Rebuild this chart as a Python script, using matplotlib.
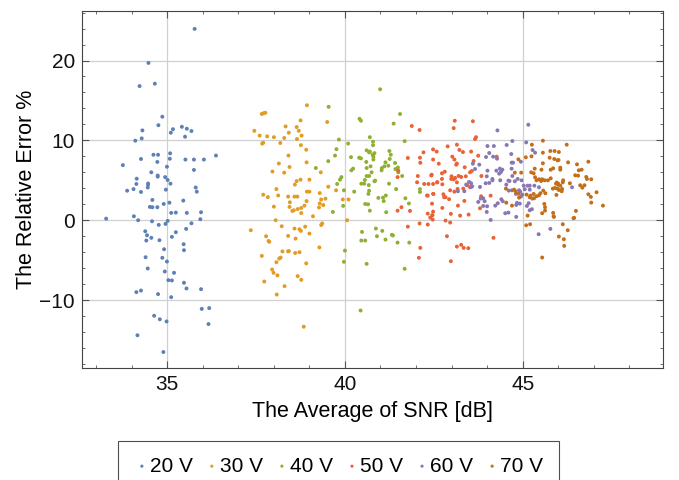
import matplotlib
matplotlib.use("Agg")
import matplotlib.pyplot as plt
import numpy as np

plt.rcParams['font.family'] = ['Liberation Sans', 'DejaVu Sans']

# 20 V
snr_20 = [35.77, 34.47, 34.22, 34.65, 34.86, 34.75, 34.30, 34.28, 34.10, 35.10,
          35.16, 35.41, 35.55, 35.68, 35.50, 35.08, 35.07, 34.61, 34.74, 34.26,
          33.75, 34.72, 35.51, 35.75, 36.03, 36.37, 34.99, 35.75, 34.55, 34.73,
          34.73, 34.94, 35.01, 34.14, 34.13, 34.46, 34.46, 35.09, 34.45, 34.05,
          33.87, 34.26, 34.96, 35.80, 35.83, 34.58, 35.45, 35.06, 34.90, 34.51,
          34.58, 34.72, 35.11, 35.24, 35.55, 35.95, 34.06, 33.28, 34.18, 34.57,
          35.01, 35.93, 34.95, 34.76, 35.68, 34.38, 34.43, 35.24, 34.55, 34.41,
          35.53, 35.13, 34.78, 35.46, 34.91, 35.47, 34.39, 34.86, 34.99, 34.45,
          34.93, 35.19, 35.03, 35.13, 35.47, 35.54, 35.95, 34.13, 34.26, 34.74,
          35.11, 35.97, 36.18, 34.63, 34.79, 34.98, 36.16, 34.16, 34.89]
err_20 = [23.96, 19.7, 16.8, 17.1, 12.96, 11.9, 11.25, 10.25, 9.96, 10.96,
          11.4, 11.7, 11.46, 11.17, 10.46, 8.38, 7.7, 8.2, 8.2, 7.67,
          6.9, 7.3, 7.6, 7.6, 7.6, 8.1, 6.7, 6.3, 6.0, 5.6,
          5.46, 5.4, 5.04, 5.2, 4.54, 4.6, 4.46, 4.58, 4.1, 3.9,
          3.7, 3.54, 3.83, 4.1, 3.58, 2.54, 2.46, 2.2, 2.04, 1.67,
          1.63, 1.63, 0.92, 0.96, 0.92, 1.0, 0.5, 0.2, 0.0, -0.13,
          -0.08, 0.13, -0.46, -0.58, -0.38, -1.38, -1.88, -1.5, -2.2, -2.54,
          -1.08, -2.08, -2.5, -3.0, -3.63, -3.75, -4.63, -4.7, -5.17, -6.04,
          -6.42, -6.58, -7.5, -7.54, -7.83, -8.54, -8.63, -9.0, -8.8, -9.25,
          -9.63, -11.1, -11.0, -11.96, -12.4, -12.67, -13.0, -14.4, -16.5]

# 30 V
snr_30 = [38.93, 37.66, 37.71, 37.76, 38.75, 39.50, 37.45, 37.60, 37.81, 38.00,
          38.33, 38.64, 38.70, 38.42, 38.78, 38.29, 38.65, 37.70, 37.67, 38.18,
          38.76, 38.91, 38.41, 38.14, 38.92, 38.44, 39.32, 37.96, 38.29, 38.75,
          39.00, 38.64, 38.59, 39.53, 38.07, 39.75, 38.93, 39.00, 39.29, 37.70,
          38.12, 37.83, 38.40, 38.58, 38.66, 39.45, 39.33, 39.94, 40.10, 38.92,
          38.45, 39.29, 39.39, 39.27, 38.86, 38.00, 38.77, 38.67, 38.56, 38.52,
          38.44, 38.77, 39.10, 38.05, 40.06, 37.35, 38.22, 39.36, 39.33, 38.88,
          38.58, 38.72, 38.76, 39.00, 37.78, 37.85, 37.87, 38.40, 38.61, 39.28,
          38.24, 38.40, 38.42, 38.60, 38.72, 37.66, 38.19, 38.15, 38.07, 38.91,
          37.95, 37.99, 38.10, 37.73, 38.67, 38.77, 38.30, 38.08, 38.84]
err_30 = [14.4, 13.3, 13.4, 13.46, 12.5, 12.3, 11.2, 10.6, 10.5, 10.4,
          11.75, 11.67, 11.2, 10.96, 10.6, 10.3, 10.17, 9.7, 9.6, 9.67,
          9.4, 8.83, 8.1, 7.1, 7.25, 6.67, 6.0, 6.1, 5.96, 5.08,
          5.08, 4.9, 4.46, 4.2, 3.9, 3.75, 3.58, 3.58, 3.4, 3.2,
          3.1, 2.9, 2.96, 2.96, 2.96, 2.7, 2.6, 2.6, 2.6, 2.4,
          2.25, 2.1, 1.9, 1.6, 1.83, 1.7, 1.54, 1.4, 1.25, 1.17,
          1.67, 0.9, 0.5, 0.0, 0.0, -1.25, -0.75, -0.4, -0.6, -0.8,
          -1.04, -1.13, -1.33, -1.67, -2.0, -2.6, -2.7, -1.96, -2.3, -3.4,
          -3.9, -3.9, -3.85, -4.1, -4.0, -4.46, -4.67, -4.8, -5.25, -5.4,
          -6.17, -6.58, -6.9, -7.67, -7.0, -7.46, -8.25, -9.3, -13.33]

# 40 V
snr_40 = [40.99, 39.54, 41.55, 40.41, 40.45, 41.37, 39.83, 40.09, 40.70, 40.79,
          40.79, 41.68, 39.76, 40.61, 40.70, 40.68, 40.83, 40.78, 40.80, 40.80,
          41.25, 41.29, 41.26, 39.72, 40.17, 40.40, 40.45, 39.53, 40.60, 41.14,
          41.41, 41.49, 41.42, 41.22, 41.11, 41.04, 41.03, 40.61, 40.72, 39.18,
          40.23, 40.18, 40.75, 40.61, 40.68, 41.50, 41.61, 40.56, 40.54, 40.85,
          40.83, 40.67, 40.68, 39.90, 39.86, 39.78, 40.46, 41.24, 41.44, 40.26,
          39.97, 41.15, 41.07, 41.09, 40.94, 40.66, 41.70, 41.80, 39.95, 40.57,
          40.65, 40.70, 41.16, 39.66, 42.11, 42.11, 42.46, 40.87, 41.05, 41.32,
          41.35, 40.90, 40.48, 40.46, 40.57, 41.14, 41.48, 41.81, 40.00, 39.97,
          40.61, 41.68, 40.44]
err_40 = [16.4, 14.2, 13.3, 12.7, 12.46, 12.1, 10.1, 9.6, 10.4, 9.83,
          9.4, 9.9, 8.9, 8.75, 8.6, 8.5, 8.4, 8.2, 7.96, 7.6,
          8.67, 8.2, 7.67, 8.1, 7.9, 7.83, 7.75, 7.4, 7.3, 7.25,
          7.17, 6.6, 6.4, 6.83, 6.75, 6.54, 6.25, 6.54, 6.75, 6.54,
          6.46, 6.25, 6.0, 5.54, 5.54, 6.0, 5.54, 5.04, 4.58, 4.96,
          4.88, 4.4, 3.7, 5.4, 5.08, 4.54, 4.58, 4.58, 3.9, 3.58,
          3.75, 3.1, 2.83, 2.4, 2.8, 3.3, 2.75, 2.1, 1.8, 2.04,
          2.0, 1.2, 1.0, 1.04, 3.9, 3.54, 0.63, -1.04, -1.33, -1.83,
          -1.9, -2.0, -1.46, -2.54, -2.54, -2.42, -2.8, -2.8, -3.8, -5.2,
          -5.46, -6.08, -11.3]

# 50 V
snr_50 = [41.88, 42.10, 42.21, 42.48, 42.58, 41.77, 42.11, 42.12, 42.48, 42.64,
          42.43, 42.05, 42.03, 42.23, 42.35, 42.48, 42.59, 42.31, 42.48, 41.83,
          41.59, 41.48, 42.45, 42.48, 42.46, 42.47, 42.33, 42.40, 42.10, 42.33,
          41.77, 42.12, 42.08, 41.50, 41.48, 43.09, 43.60, 43.06, 43.69, 43.66,
          42.89, 43.15, 43.22, 43.32, 43.55, 43.75, 43.02, 43.08, 43.15, 43.13,
          43.62, 43.37, 43.52, 43.57, 42.81, 42.73, 42.44, 43.00, 42.99, 43.10,
          43.06, 43.20, 43.27, 43.40, 43.84, 42.73, 42.74, 43.15, 43.33, 43.17,
          43.44, 43.52, 42.96, 43.08, 42.33, 42.49, 42.77, 42.79, 42.83, 42.93,
          43.36, 43.18, 43.83, 44.10, 42.74, 42.98, 43.24, 43.48, 43.80, 42.83,
          42.96, 42.87, 44.18, 43.15, 43.27, 43.34, 43.47, 42.98, 44.27, 42.60]
err_50 = [11.8, 11.3, 8.5, 8.87, 8.6, 7.8, 7.83, 7.2, 7.6, 7.08,
          5.6, 5.54, 4.75, 4.54, 4.54, 4.54, 4.75, 3.1, 3.3, 1.17,
          1.63, 1.2, 2.08, 1.08, 0.63, 0.08, 0.83, 0.33, -0.4, -0.54,
          -0.8, -3.46, -4.7, 6.2, 5.4, 12.46, 12.4, 11.54, 10.4, 10.17,
          9.25, 9.46, 8.8, 8.54, 8.6, 8.08, 7.96, 7.6, 7.1, 6.96,
          7.42, 6.63, 6.0, 6.17, 6.08, 5.88, 5.7, 5.5, 5.17, 5.3,
          5.13, 5.54, 5.42, 5.5, 5.54, 5.17, 4.5, 4.75, 3.96, 3.92,
          4.38, 4.13, 3.75, 3.58, 3.08, 3.3, 3.25, 2.88, 2.88, 2.63,
          2.42, 1.83, 3.0, 3.08, 1.54, 0.8, 0.58, 0.71, 1.5, -0.04,
          -0.29, -2.0, -2.2, -3.3, -3.08, -3.46, -3.5, -5.13, 7.96, 4.75]

# 60 V
snr_60 = [45.16, 44.29, 44.01, 44.19, 44.55, 44.71, 45.10, 45.28, 45.35, 44.06,
          43.97, 44.17, 44.28, 44.68, 44.69, 44.73, 44.95, 43.60, 43.78, 43.66,
          44.01, 44.26, 44.36, 44.43, 44.39, 44.34, 44.69, 43.99, 43.96, 44.06,
          44.15, 44.15, 43.80, 43.49, 43.55, 43.58, 43.55, 43.41, 44.37, 44.60,
          44.63, 44.54, 44.78, 44.71, 44.86, 44.97, 45.03, 45.14, 45.20, 44.70,
          44.61, 44.90, 44.93, 45.06, 45.20, 45.33, 45.46, 44.81, 44.99, 44.95,
          44.40, 44.44, 43.82, 43.89, 43.75, 43.93, 44.23, 44.30, 44.00, 43.89,
          44.84, 44.92, 44.82, 45.27, 45.17, 45.12, 45.20, 45.26, 43.99, 44.51,
          44.60, 44.82, 44.10, 45.87, 45.78, 45.45, 43.18, 43.36, 46.39]
err_60 = [11.96, 11.25, 9.29, 9.29, 9.42, 9.92, 9.75, 8.79, 8.46, 8.42,
          7.92, 7.96, 7.71, 8.29, 7.21, 7.21, 7.33, 7.08, 6.96, 6.42,
          6.21, 6.21, 6.46, 6.33, 6.04, 5.83, 6.46, 5.5, 4.63, 4.67,
          5.17, 5.0, 4.17, 4.79, 4.63, 4.25, 4.17, 4.46, 5.0, 4.96,
          4.92, 4.46, 4.88, 5.54, 5.17, 5.0, 4.33, 4.33, 4.33, 3.75,
          3.71, 3.75, 3.58, 3.88, 3.83, 4.33, 4.13, 3.3, 3.2, 2.96,
          2.63, 2.38, 2.71, 2.75, 2.29, 2.38, 1.83, 2.13, 1.75, 1.79,
          2.17, 2.08, 1.92, 2.71, 2.13, 1.79, 1.25, 1.38, 1.04, 0.88,
          0.96, 0.42, 0.04, 0.5, -1.08, -1.75, 3.63, 3.63, 4.13]

# 70 V
snr_70 = [45.57, 45.26, 46.24, 45.57, 45.78, 45.90, 46.02, 45.09, 45.25, 44.88,
          45.76, 45.89, 45.98, 46.01, 46.28, 46.53, 46.85, 45.57, 45.34, 45.53,
          45.79, 45.86, 46.06, 46.06, 44.96, 44.78, 46.58, 46.66, 45.31, 45.24,
          46.48, 46.56, 46.79, 46.81, 46.93, 45.35, 45.46, 45.39, 45.55, 45.62,
          45.52, 45.79, 45.71, 46.14, 46.13, 46.00, 45.96, 45.94, 46.00, 46.06,
          46.33, 46.62, 46.68, 46.74, 45.85, 45.91, 45.98, 46.11, 46.10, 46.02,
          45.58, 45.50, 45.46, 45.64, 45.95, 45.31, 45.22, 45.11, 45.20, 45.32,
          45.39, 44.88, 44.80, 44.76, 44.90, 44.53, 44.70, 44.54, 46.85, 46.92,
          47.08, 46.93, 47.26, 46.50, 46.43, 46.45, 45.61, 45.63, 45.63, 45.55,
          45.86, 45.88, 45.14, 45.21, 45.10, 46.13, 46.27, 46.02, 46.16, 46.17,
          45.55]
err_70 = [9.96, 9.46, 9.46, 8.46, 8.67, 8.67, 8.54, 7.88, 8.0, 7.63,
          7.83, 7.67, 7.5, 7.55, 7.25, 7.0, 7.33, 7.13, 6.46, 6.33,
          6.33, 6.5, 6.58, 6.33, 5.96, 5.96, 6.25, 6.33, 5.88, 6.0,
          5.63, 5.58, 5.42, 5.17, 5.13, 5.38, 5.13, 5.0, 5.13, 5.0,
          4.92, 5.25, 5.0, 5.0, 4.75, 4.46, 4.71, 4.58, 4.58, 4.33,
          4.63, 4.38, 4.08, 4.38, 3.96, 4.04, 3.96, 3.92, 3.63, 3.79,
          3.71, 3.38, 3.13, 3.38, 3.17, 3.29, 3.08, 3.21, 2.88, 2.75,
          3.0, 3.33, 3.63, 3.83, 2.83, 3.96, 1.83, 2.2, 3.25, 2.92,
          3.5, 2.21, 1.83, 1.17, 0.25, 0.3, 2.04, 1.63, 1.21, 0.88,
          0.92, 0.42, 0.58, -0.5, -0.63, -0.5, -1.25, -2.04, -2.38, -3.21,
          -4.67]

labels = ["20 V", "30 V", "40 V", "50 V", "60 V", "70 V"]
colors = ["#5E81B5", "#E19C24", "#8FB032", "#EB6235", "#8778B3", "#C56E1A"]
series = [(snr_20, err_20), (snr_30, err_30), (snr_40, err_40),
          (snr_50, err_50), (snr_60, err_60), (snr_70, err_70)]

fig = plt.figure(figsize=(6.79, 4.8), dpi=100)
ax = fig.add_axes([82/679, 1 - 368/480, (663 - 82)/679, (368 - 11)/480])

for (x, y), c, lab in zip(series, colors, labels):
    ax.scatter(x, y, s=8, color=c, edgecolors="none", label=lab)

ax.set_xlim(32.6, 48.95)
ax.set_ylim(-18.5, 26.2)
ax.set_xticks([35, 40, 45])
ax.set_yticks([-10, 0, 10, 20])
ax.set_xticks(np.arange(33, 49, 1), minor=True)
ax.set_yticks(np.arange(-18, 27, 2), minor=True)
ax.grid(True, which="major", color="#d0d0d0", lw=0.9)
ax.set_axisbelow(True)
for sp in ax.spines.values():
    sp.set_color("#444444")
    sp.set_linewidth(0.8)
ax.tick_params(which="both", direction="in", top=True, right=True,
               color="#555555", labelsize=15, labelcolor="#111111")
ax.tick_params(which="major", length=5, width=0.8, pad=5)
ax.tick_params(which="minor", length=2.5, width=0.6)
ax.set_xlabel("The Average of SNR [dB]", fontsize=15.5, labelpad=5)
ax.set_ylabel("The Relative Error %", fontsize=15.5, labelpad=2)

leg = fig.legend(loc="upper center", bbox_to_anchor=(338.5/679, 1 - 441/480),
                 ncol=6, fontsize=15, frameon=True, fancybox=False,
                 handletextpad=0.0, columnspacing=0.5, handlelength=0.8,
                 borderpad=0.75, borderaxespad=0, markerscale=0.8)
leg.get_frame().set_edgecolor("#222222")
leg.get_frame().set_linewidth(0.8)

fig.savefig("out.png", dpi=100)
